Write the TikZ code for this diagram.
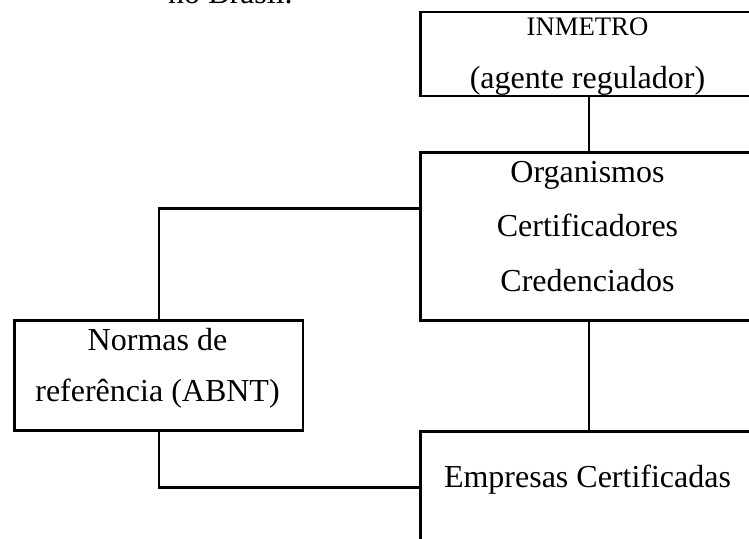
\documentclass[tikz,border=0pt]{standalone}
\usepackage{fontspec}
\setmainfont{Liberation Serif}
\begin{document}
\begin{tikzpicture}[x=1pt,y=-1pt,
  caixa/.style={draw,line width=2.7pt,inner sep=0pt,anchor=north west},
  ligacao/.style={line width=2.7pt},
  texto/.style={anchor=base,inner sep=0pt,font=\fontsize{32}{32}\selectfont},
  textop/.style={anchor=base,inner sep=0pt,font=\fontsize{26.7}{26.7}\selectfont}]
\useasboundingbox (0,0) rectangle (749,538);
\clip (0,0) rectangle (749,538);
\node[texto,anchor=base west] (brasil) at (168,4) {no Brasil.};
% caixas
\node[caixa,minimum width=337pt,minimum height=84pt] (inmetro) at (419,10.5) {};
\node[caixa,minimum width=337pt,minimum height=168pt] (organismos) at (419,151) {};
\node[caixa,minimum width=288.4pt,minimum height=110.3pt] (normas) at (13.3,319) {};
\node[caixa,minimum width=337pt,minimum height=112pt] (empresas) at (419,430) {};
% textos
\node[textop] (inmetroA) at (587.5,35) {INMETRO};
\node[texto] (inmetroB) at (587.5,88) {(agente regulador)};
\node[texto] (organismosA) at (587.5,182.7) {Organismos};
\node[texto] (organismosB) at (587.5,236.7) {Certificadores};
\node[texto] (organismosC) at (587.5,291.7) {Credenciados};
\node[texto] (normasA) at (157.5,350) {Normas de};
\node[texto] (normasB) at (157.5,401.7) {referência (ABNT)};
\node[texto] (empresasA) at (587.5,487.7) {Empresas Certificadas};
% ligacoes
\draw[ligacao] (inmetro.south) -- (organismos.north);
\draw[ligacao] (organismos.south) -- (empresas.north);
\draw[ligacao] ([yshift=28pt]organismos.west) -| (normas.north);
\draw[ligacao] (normas.south) |- (empresas.west);
\end{tikzpicture}
\end{document}
